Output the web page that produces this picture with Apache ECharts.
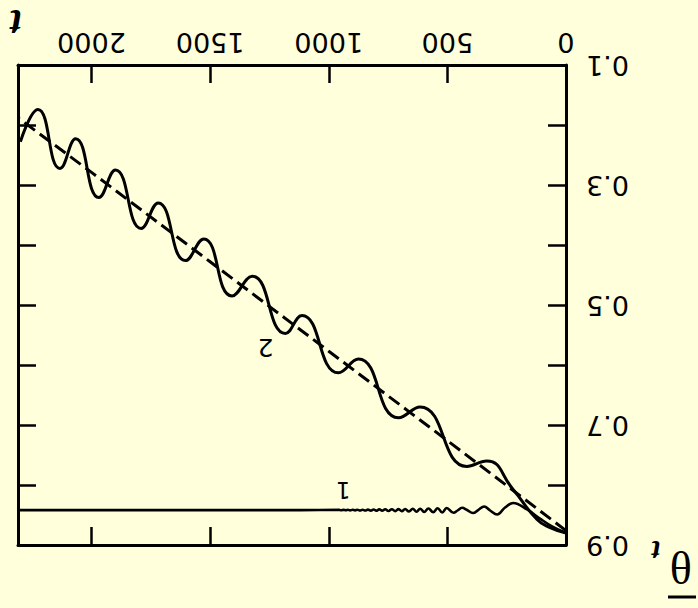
<!DOCTYPE html>
<html><head><meta charset="utf-8">
<script src="https://cdn.jsdelivr.net/npm/echarts@6/dist/echarts.min.js"></script>
<style>html,body{margin:0;padding:0;background:#ffffdc}#c{width:698px;height:608px}</style>
</head><body><div id="c"></div>
<script>
// x axis: time t ; y axis: theta_t
const xTickLabels = ['0', '500', '1000', '1500', '2000'];
const yTickLabels = ['0.1', '0.3', '0.5', '0.7', '0.9'];

// Curve 2 (solid, oscillating)
const curve2T     = [2300, 2226, 2133, 2067, 1969, 1899, 1791, 1719, 1604, 1527, 1408, 1323, 1183, 1113, 959, 875, 706, 615, 418, 334, 223, 122, 67, 0];
const curve2Theta = [0.228, 0.174, 0.2725, 0.223, 0.321, 0.275, 0.3725, 0.330, 0.426, 0.390, 0.485, 0.452, 0.5475, 0.5175, 0.613, 0.590, 0.688, 0.670, 0.769, 0.760, 0.8075, 0.8575, 0.871, 0.880];

// Dashed mean line
const meanT     = [0, 500, 1000, 1500, 2000, 2310];
const meanTheta = [0.876, 0.726, 0.577, 0.428, 0.279, 0.188];

// Curve 1 (solid, small decaying oscillations)
const curve1T = [0, 59, 110, 164, 223, 257, 290, 320, 345, 370, 392, 417, 438, 457, 474, 503,
  522, 541, 560, 580, 598, 615, 630, 646, 662, 678, 692, 706, 720, 734, 748, 762, 775, 787, 800, 811,
  823, 835, 846, 858, 868, 879, 889, 900, 910, 919, 928, 938, 947, 956, 1120, 2310];
const curve1Theta = [0.880, 0.869, 0.856, 0.8408, 0.830, 0.8375, 0.8492, 0.8425, 0.8358, 0.8417, 0.8467, 0.8417, 0.838, 0.8425, 0.8463, 0.8383,
  0.8458, 0.8388, 0.8453, 0.8392, 0.845, 0.8395, 0.8445, 0.8397, 0.8442, 0.840, 0.8438, 0.8402, 0.8435, 0.8403, 0.8433, 0.8405, 0.843, 0.8407, 0.8428, 0.8408,
  0.8427, 0.841, 0.8425, 0.8412, 0.8425, 0.8412, 0.8423, 0.8413, 0.8423, 0.8413, 0.8422, 0.8415, 0.8422, 0.8415, 0.8418, 0.8418];

const label1At = [939, 0.8075];
const label2At = [1267, 0.571];

const zip = (a, b) => a.map((v, i) => [v, b[i]]);
const chart = echarts.init(document.getElementById('c'), null, {renderer: 'svg'});
const black = '#000';
const FONT = 'DejaVu Sans';
const lineAx = () => ({show: true, onZero: false, lineStyle: {color: black, width: 3}});
const tickIn = () => ({show: true, inside: true, length: 18, lineStyle: {color: black, width: 2.5}});
const xBase = () => ({type: 'value', min: 0, max: 2310, interval: 500, inverse: true, splitLine: {show: false}, axisLine: lineAx()});
const yBase = () => ({type: 'value', min: 0.1, max: 0.9, interval: 0.1, inverse: true, splitLine: {show: false}, axisLine: lineAx()});

chart.setOption({
  backgroundColor: '#ffffdc',
  animation: false,
  grid: {left: 18, right: 132, top: 65, bottom: 63},
  xAxis: [
    Object.assign(xBase(), {position: 'top', axisTick: tickIn(), axisLabel: {show: true, rotate: 180, margin: 9, color: black, fontFamily: FONT, fontSize: 27,
      formatter: v => (xTickLabels.indexOf(String(v)) >= 0 ? String(v) : '')}}),
    Object.assign(xBase(), {position: 'bottom', axisTick: tickIn(), axisLabel: {show: false}})
  ],
  yAxis: [
    Object.assign(yBase(), {position: 'right', axisTick: tickIn(), axisLabel: {show: true, rotate: 180, margin: 20, color: black, fontFamily: FONT, fontSize: 27,
      formatter: v => (yTickLabels.indexOf(v.toFixed(1)) >= 0 ? v.toFixed(1) : '')}}),
    Object.assign(yBase(), {position: 'left', axisTick: tickIn(), axisLabel: {show: false}})
  ],
  graphic: [
    {type: 'text', x: 16, y: 23, rotation: Math.PI, style: {text: 't', font: 'italic bold 40px "Liberation Serif"', fill: black, textAlign: 'center', textVerticalAlign: 'middle'}},
    {type: 'text', x: 681, y: 566, rotation: Math.PI, style: {text: 'θ', font: '46px "Liberation Serif"', fill: black, textAlign: 'center', textVerticalAlign: 'middle'}},
    {type: 'text', x: 656, y: 551, rotation: Math.PI, style: {text: 't', font: 'italic bold 30px "Liberation Serif"', fill: black, textAlign: 'center', textVerticalAlign: 'middle'}},
    {type: 'line', shape: {x1: 668, y1: 597, x2: 696, y2: 597}, style: {stroke: black, lineWidth: 3}}
  ],
  series: [
    {type: 'line', data: zip(curve2T, curve2Theta), smooth: 0.5, symbol: 'none', lineStyle: {color: black, width: 3},
      markPoint: {symbol: 'circle', symbolSize: 0, data: [{coord: label2At, label: {show: true, formatter: '2', rotate: 180, color: black, fontFamily: FONT, fontSize: 25}}]}},
    {type: 'line', data: zip(meanT, meanTheta), smooth: false, symbol: 'none', lineStyle: {color: black, width: 3, type: [13, 6]}},
    {type: 'line', data: zip(curve1T, curve1Theta), smooth: 0.4, symbol: 'none', lineStyle: {color: black, width: 2.6},
      markPoint: {symbol: 'circle', symbolSize: 0, data: [{coord: label1At, label: {show: true, formatter: '1', rotate: 180, color: black, fontFamily: FONT, fontSize: 23}}]}}
  ]
});
</script>
</body></html>
